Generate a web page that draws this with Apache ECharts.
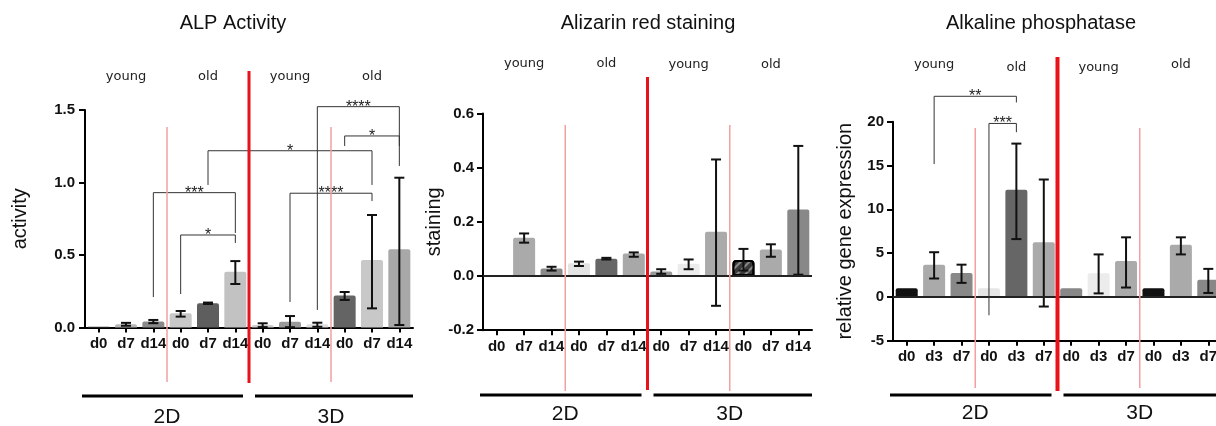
<!DOCTYPE html>
<html><head><meta charset="utf-8">
<script src="https://cdn.jsdelivr.net/npm/echarts@6/dist/echarts.min.js"></script>
<style>html,body{margin:0;padding:0;background:#fff}#c{width:1216px;height:426px}</style>
</head><body><div id="c"></div>
<script>
// ---------- data ----------
const titles = ['ALP Activity', 'Alizarin red staining', 'Alkaline phosphatase'];
const axisNames = ['activity', 'staining', 'relative gene expression'];
const daysA = ['d0','d7','d14','d0','d7','d14','d0','d7','d14','d0','d7','d14'];
const daysC = ['d0','d3','d7','d0','d3','d7','d0','d3','d7','d0','d3','d7'];
const ageLabels = ['young', 'old', 'young', 'old'];
const cultureLabels = ['2D', '3D'];

// ALP Activity
const alpActivity     = [0.005, 0.022, 0.042, 0.098, 0.167, 0.385, 0.017, 0.040, 0.022, 0.220, 0.466, 0.540];
const alpActivityLow  = [null, 0.012, 0.030, 0.075, 0.162, 0.300, 0.003, 0.002, 0.005, 0.190, 0.132, 0.017];
const alpActivityHigh = [null, 0.032, 0.052, 0.114, 0.172, 0.458, 0.029, 0.079, 0.033, 0.245, 0.776, 1.033];
// bracket: [fromIndex, toIndex, barValue, leftLegEnd, rightLegEnd]
const alpActivityBrackets = [
  [3, 5, 0.638, 0.231, 0.583],
  [2, 5, 0.930, 0.210, 0.652],
  [4, 10, 1.219, 0.983, 0.983],
  [8, 11, 1.523, 0.121, 1.114],
  [9, 11, 1.321, 1.252, 1.252],
  [7, 10, 0.926, 0.176, 0.872]
];
const alpActivityStars = ['*', '***', '*', '****', '*', '****'];

// Alizarin red staining
const alizarin     = [0.003, 0.141, 0.028, 0.047, 0.064, 0.083, 0.017, 0.045, 0.163, 0.059, 0.098, 0.245];
const alizarinLow  = [null, 0.123, 0.020, 0.037, 0.061, 0.071, 0.008, 0.025, -0.110, 0.020, 0.071, 0.005];
const alizarinHigh = [null, 0.157, 0.034, 0.053, 0.067, 0.087, 0.025, 0.061, 0.430, 0.100, 0.117, 0.480];
const alizarinBrackets = [];
const alizarinStars = [];

// Alkaline phosphatase gene expression
const alpGene     = [1.0, 3.68, 2.73, 1.0, 12.24, 6.25, 1.0, 2.70, 4.10, 1.0, 5.95, 1.97];
const alpGeneLow  = [null, 2.10, 1.60, null, 6.60, -1.10, null, 0.40, 1.07, null, 4.85, 0.45];
const alpGeneHigh = [null, 5.10, 3.68, null, 17.50, 13.40, null, 4.85, 6.80, null, 6.80, 3.20];
const alpGeneBrackets = [
  [1, 4, 22.9, 15.16, 22.2],
  [3, 4, 19.8, -2.1, 18.8]
];
const alpGeneStars = ['**', '***'];

// ---------- styles / layout ----------
const alpActivityColors = ['#3a3a3a','#b8b8b8','#8a8a8a','#c8c8c8','#5e5e5e','#c2c2c2','#cfcfcf','#9a9a9a','#dedede','#646464','#c8c8c8','#a8a8a8'];
const alizarinColors    = ['#333333','#aaaaaa','#8a8a8a','#e4e4e4','#666666','#a8a8a8','#999999','#ececec','#aaaaaa','#3a3a3a','#aaaaaa','#888888'];
const alpGeneColors     = ['#111111','#aaaaaa','#888888','#e6e6e6','#666666','#aaaaaa','#888888','#ececec','#aaaaaa','#111111','#aaaaaa','#888888'];

const FONT = 'Liberation Sans, Arial, sans-serif';

const panels = [
  { cats: daysA, values: alpActivity, low: alpActivityLow, high: alpActivityHigh, colors: alpActivityColors,
    brackets: alpActivityBrackets, stars: alpActivityStars, min: 0, max: 1.5, interval: 0.5, dec: 1,
    grid: { left: 85, top: 110, width: 328, height: 217.5 }, zero: false, nameGap: 55, hatch: -1, labelMargin: 10,
    lay: { redTop: 71, redBot: 383, redW: 3, pinkTop: 127, pinkBot: 382, ageY: [77, 77, 77, 77], underY: 396, cultureY: 417, titleX: 233 } },
  { cats: daysA, values: alizarin, low: alizarinLow, high: alizarinHigh, colors: alizarinColors,
    brackets: alizarinBrackets, stars: alizarinStars, min: -0.2, max: 0.6, interval: 0.2, dec: 1,
    grid: { left: 483, top: 113.4, width: 329, height: 216.8 }, zero: true, nameGap: 36, hatch: 9, labelMargin: 9,
    lay: { redTop: 77, redBot: 390, redW: 3, pinkTop: 125, pinkBot: 391, ageY: [64, 64, 65, 65], underY: 395, cultureY: 414, titleX: 648 } },
  { cats: daysC, values: alpGene, low: alpGeneLow, high: alpGeneHigh, colors: alpGeneColors,
    brackets: alpGeneBrackets, stars: alpGeneStars, min: -5, max: 20, interval: 5, dec: 0,
    grid: { left: 893, top: 121.7, width: 329, height: 219 }, zero: true, nameGap: 38, hatch: -1, labelMargin: 9,
    lay: { redTop: 57, redBot: 391, redW: 4, pinkTop: 128, pinkBot: 388, ageY: [65, 68, 68, 65], underY: 395, cultureY: 413, titleX: 1041 } }
];

function errRender(low, high) {
  return function (params, api) {
    const i = params.dataIndex;
    if (low[i] == null) return;
    const a = api.coord([i, low[i]]), b = api.coord([i, high[i]]);
    const w = 5, st = { stroke: '#111', lineWidth: 2 };
    return { type: 'group', children: [
      { type: 'line', shape: { x1: a[0], y1: a[1], x2: b[0], y2: b[1] }, style: st },
      { type: 'line', shape: { x1: a[0] - w, y1: a[1], x2: a[0] + w, y2: a[1] }, style: st },
      { type: 'line', shape: { x1: b[0] - w, y1: b[1], x2: b[0] + w, y2: b[1] }, style: st }
    ] };
  };
}

function bracketRender(brackets, stars) {
  return function (params, api) {
    const k = params.dataIndex, b = brackets[k];
    const p1 = api.coord([b[0], b[3]]), p2 = api.coord([b[0], b[2]]), p3 = api.coord([b[1], b[2]]), p4 = api.coord([b[1], b[4]]);
    return { type: 'group', children: [
      { type: 'polyline', shape: { points: [p1, p2, p3, p4] }, style: { stroke: '#333', lineWidth: 1, fill: null } },
      { type: 'text', x: (p2[0] + p3[0]) / 2, y: p2[1] + 0.5,
        style: { text: stars[k], align: 'center', verticalAlign: 'middle', fontFamily: FONT, fontSize: 16, fill: '#222' } }
    ] };
  };
}

function decoRender(lay) {
  return function (params, api) {
    const band = api.size([1, 0])[0];
    const cx = i => api.coord([i, 0])[0];
    const edge = i => cx(i) + band / 2;
    const left = cx(0) - band / 2, right = cx(11) + band / 2;
    const ch = [];
    [2, 8].forEach(i => ch.push({ type: 'line', shape: { x1: edge(i), y1: lay.pinkTop, x2: edge(i), y2: lay.pinkBot },
      style: { stroke: '#f2a0a0', lineWidth: 1.5 } }));
    ch.push({ type: 'line', shape: { x1: edge(5), y1: lay.redTop, x2: edge(5), y2: lay.redBot }, style: { stroke: '#e8121a', lineWidth: lay.redW } });
    ageLabels.forEach((t, k) => ch.push({ type: 'text', x: cx(1 + 3 * k), y: lay.ageY[k],
      style: { text: t, align: 'center', verticalAlign: 'middle', fontFamily: 'DejaVu Sans', fontSize: 13, fill: '#222' } }));
    ch.push({ type: 'line', shape: { x1: left - 3, y1: lay.underY, x2: edge(5) - 6, y2: lay.underY }, style: { stroke: '#000', lineWidth: 3 } });
    ch.push({ type: 'line', shape: { x1: edge(5) + 6, y1: lay.underY, x2: right, y2: lay.underY }, style: { stroke: '#000', lineWidth: 3 } });
    cultureLabels.forEach((t, k) => ch.push({ type: 'text', x: edge(2 + 6 * k), y: lay.cultureY,
      style: { text: t, align: 'center', verticalAlign: 'middle', fontFamily: FONT, fontSize: 21, fill: '#111' } }));
    return { type: 'group', children: ch };
  };
}

const grid = [], xAxis = [], yAxis = [], series = [], graphic = [];
panels.forEach((p, g) => {
  grid.push(Object.assign({ containLabel: false, outerBoundsMode: 'none' }, p.grid));
  xAxis.push({
    type: 'category', gridIndex: g, data: p.cats, boundaryGap: true,
    axisLine: { onZero: false, lineStyle: { color: '#000', width: 2 } },
    axisTick: { show: true, alignWithLabel: true, length: 5, lineStyle: { color: '#000', width: 2 } },
    axisLabel: { interval: 0, margin: 9, color: '#111', fontFamily: FONT, fontWeight: 'bold', fontSize: 15 },
    splitLine: { show: false }
  });
  yAxis.push({
    type: 'value', gridIndex: g, min: p.min, max: p.max, interval: p.interval,
    name: axisNames[g], nameLocation: 'middle', nameGap: p.nameGap, nameRotate: 90,
    nameTextStyle: { fontFamily: FONT, fontSize: 20, color: '#111' },
    axisLine: { show: true, lineStyle: { color: '#000', width: 2 } },
    axisTick: { show: true, length: 6, lineStyle: { color: '#000', width: 2 } },
    axisLabel: { margin: p.labelMargin, color: '#111', fontFamily: FONT, fontWeight: 'bold', fontSize: 15,
      formatter: v => Number(v).toFixed(p.dec) },
    splitLine: { show: false }
  });
  const barData = p.values.map((v, i) => {
    const st = { color: p.colors[i], borderRadius: [2, 2, 0, 0] };
    if (i === p.hatch) {
      st.borderColor = '#000'; st.borderWidth = 2; st.borderRadius = [3, 3, 0, 0];
      st.decal = { symbol: 'rect', symbolSize: 1, color: '#8a8a8a', dashArrayX: [1, 0], dashArrayY: [2, 4], rotation: -Math.PI / 4 };
    }
    return { value: v, itemStyle: st };
  });
  const bar = { type: 'bar', xAxisIndex: g, yAxisIndex: g, data: barData, barWidth: 22, animation: false, z: 2, silent: true };
  if (p.zero) {
    bar.markLine = { silent: true, symbol: ['none', 'none'], label: { show: false },
      lineStyle: { color: '#222', width: 2, type: 'solid' }, data: [{ yAxis: 0 }], animation: false };
  }
  series.push(bar);
  series.push({ type: 'custom', xAxisIndex: g, yAxisIndex: g, z: 4, animation: false, silent: true,
    renderItem: errRender(p.low, p.high), data: p.values.map((v, i) => [i, p.low[i], p.high[i]]), encode: { x: 0, y: [1, 2] } });
  series.push({ type: 'custom', xAxisIndex: g, yAxisIndex: g, z: 5, animation: false, silent: true, clip: false,
    renderItem: bracketRender(p.brackets, p.stars), data: p.brackets.map(b => [b[0], b[2]]), encode: { x: 0, y: 1 } });
  series.push({ type: 'custom', xAxisIndex: g, yAxisIndex: g, z: 6, animation: false, silent: true, clip: false,
    renderItem: decoRender(p.lay), data: [[0, 0]], encode: { x: 0, y: 1 } });
  graphic.push({ type: 'text', x: p.lay.titleX, y: 23,
    style: { text: titles[g], align: 'center', verticalAlign: 'middle', fontFamily: FONT, fontSize: 20, fill: '#111' } });
});

const chart = echarts.init(document.getElementById('c'));
chart.setOption({ animation: false, backgroundColor: '#fff', grid, xAxis, yAxis, series, graphic });
</script>
</body></html>
